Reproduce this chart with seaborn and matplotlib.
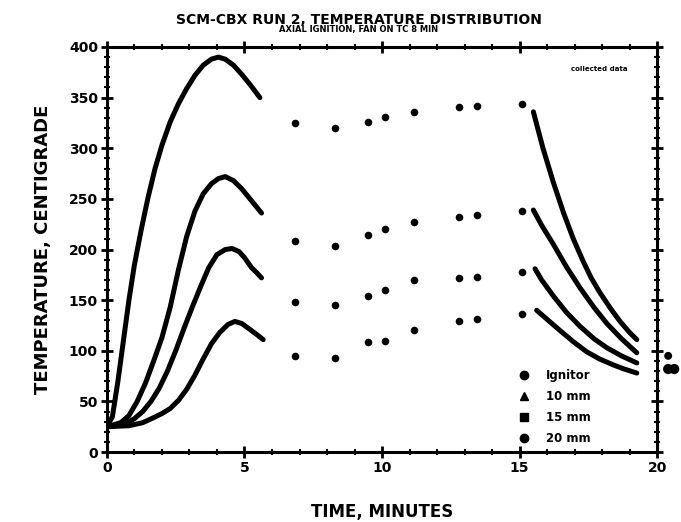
import numpy as np
import pandas as pd
import matplotlib
matplotlib.use("Agg")
import matplotlib.pyplot as plt
from matplotlib.lines import Line2D
from matplotlib.ticker import MultipleLocator
import seaborn as sns

# 读图得到的数据
# 加热段（0 ~ 5.6 分钟）
ign_rise_t = [0, 0.2, 0.4, 0.6, 0.8, 1.0, 1.25, 1.5, 1.75, 2.0, 2.3, 2.6, 2.9, 3.2,
              3.5, 3.8, 4.05, 4.3, 4.6, 4.9, 5.2, 5.56]
ign_rise_T = [25, 35, 70, 110, 150, 185, 220, 252, 280, 303, 326, 344, 359, 372,
              382, 388, 390, 388, 382, 373, 363, 350]
mm10_rise_t = [0, 0.5, 0.8, 1.1, 1.4, 1.7, 2.0, 2.3, 2.6, 2.9, 3.2, 3.5, 3.8, 4.05,
               4.3, 4.6, 4.9, 5.2, 5.62]
mm10_rise_T = [25, 29, 36, 50, 68, 90, 113, 143, 180, 213, 238, 255, 265, 270,
               272, 268, 260, 250, 236]
mm15_rise_t = [0, 0.6, 1.0, 1.3, 1.6, 1.9, 2.2, 2.5, 2.8, 3.1, 3.4, 3.7, 4.0, 4.3,
               4.55, 4.8, 5.0, 5.26, 5.45, 5.62]
mm15_rise_T = [25, 27, 33, 40, 50, 63, 80, 100, 122, 143, 163, 182, 195, 200,
               201, 198, 192, 182, 177, 172]
mm20_rise_t = [0, 0.8, 1.3, 1.7, 2.0, 2.3, 2.6, 2.9, 3.2, 3.5, 3.8, 4.1, 4.4, 4.65,
               4.9, 5.2, 5.45, 5.68]
mm20_rise_T = [25, 26, 29, 34, 38, 43, 51, 62, 76, 92, 107, 118, 126, 129,
               127, 121, 116, 111]

# 稀疏采样段
sparse_t = [6.85, 8.3, 9.5, 10.1, 11.15, 12.8, 13.45, 15.1]
ign_sparse = [325, 320, 326, 331, 336, 341, 342, 344]
mm10_sparse = [208, 203, 214, 220, 227, 232, 234, 238]
mm15_sparse = [148, 145, 154, 160, 170, 172, 173, 178]
mm20_sparse = [95, 93, 109, 110, 121, 129, 131, 136]

# 冷却段（15.5 ~ 19.3 分钟）
ign_cool_t = [15.5, 15.85, 16.23, 16.6, 16.96, 17.3, 17.6, 17.93, 18.3, 18.65, 19.0, 19.26]
ign_cool_T = [336, 300, 266, 236, 210, 189, 172, 157, 142, 129, 118, 111]
mm10_cool_t = [15.5, 15.8, 16.23, 16.7, 17.2, 17.7, 18.17, 18.7, 19.26]
mm10_cool_T = [239, 224, 205, 183, 162, 143, 127, 112, 98]
mm15_cool_t = [15.56, 15.8, 16.23, 16.7, 17.2, 17.7, 18.17, 18.7, 19.26]
mm15_cool_T = [181, 170, 154, 138, 124, 112, 103, 95, 88]
mm20_cool_t = [15.62, 16.0, 16.47, 16.95, 17.44, 17.9, 18.41, 18.8, 19.26]
mm20_cool_T = [140, 131, 120, 109, 99, 92, 86, 82, 78]

series = ["Ignitor", "10 mm", "15 mm", "20 mm"]
markers = ["o", "^", "s", "o"]

sns.set_style("ticks")
plt.rcParams["font.family"] = ["DejaVu Sans"]
plt.rcParams["font.weight"] = "bold"
for k in ["text.color", "axes.labelcolor", "xtick.color", "ytick.color", "axes.edgecolor"]:
    plt.rcParams[k] = "black"

fig = plt.figure(figsize=(6.81, 5.22), dpi=100)
ax = fig.add_axes([0.157, 0.134, 0.808, 0.776])

rise = [(ign_rise_t, ign_rise_T), (mm10_rise_t, mm10_rise_T),
        (mm15_rise_t, mm15_rise_T), (mm20_rise_t, mm20_rise_T)]
cool = [(ign_cool_t, ign_cool_T), (mm10_cool_t, mm10_cool_T),
        (mm15_cool_t, mm15_cool_T), (mm20_cool_t, mm20_cool_T)]
sparse = [ign_sparse, mm10_sparse, mm15_sparse, mm20_sparse]

for name, (rt, rT), (ct, cT) in zip(series, rise, cool):
    for tt, TT in [(rt, rT), (ct, cT)]:
        df = pd.DataFrame({"t": tt, "T": TT})
        sns.lineplot(data=df, x="t", y="T", ax=ax, color="black", lw=3.6,
                     sort=False, solid_capstyle="round", solid_joinstyle="round")

for name, vals in zip(series, sparse):
    df = pd.DataFrame({"t": sparse_t, "T": vals})
    sns.scatterplot(data=df, x="t", y="T", ax=ax, color="black", s=30,
                    edgecolor="black", linewidth=0)

# 右侧轴外的残留标记
ax.scatter([20.4, 20.4, 20.62], [95, 82, 82], s=[22, 40, 40], color="black",
           marker="o", clip_on=False, zorder=5)

ax.set_xlim(0, 20)
ax.set_ylim(0, 400)
ax.xaxis.set_major_locator(MultipleLocator(5))
ax.xaxis.set_minor_locator(MultipleLocator(1))
ax.yaxis.set_major_locator(MultipleLocator(50))
ax.yaxis.set_minor_locator(MultipleLocator(10))
ax.tick_params(which="both", top=True, right=True, direction="inout",
               color="black", labelcolor="black", labelsize=10, pad=2)
ax.tick_params(which="major", length=9, width=2)
ax.tick_params(which="minor", length=5, width=1.5)
for lab in ax.get_xticklabels() + ax.get_yticklabels():
    lab.set_fontweight("bold")
for sp in ax.spines.values():
    sp.set_visible(True)
    sp.set_linewidth(2.2)
    sp.set_color("black")

ax.set_xlabel("TIME, MINUTES", fontsize=12, fontweight="bold", labelpad=20)
ax.set_ylabel("TEMPERATURE, CENTIGRADE", fontsize=13, fontweight="bold", labelpad=12)

fig.text(0.527, 0.962, "SCM-CBX RUN 2, TEMPERATURE DISTRIBUTION",
         ha="center", va="center", fontsize=10, fontweight="bold")
fig.text(0.527, 0.943, "AXIAL IGNITION, FAN ON TC 8 MIN",
         ha="center", va="center", fontsize=6, fontweight="bold")
ax.text(0.895, 0.945, "collected data", transform=ax.transAxes,
        ha="center", va="center", fontsize=5, fontweight="bold")

handles = [Line2D([], [], ls="none", marker=m, color="black", markersize=6)
           for m in markers]
ax.legend(handles, series, loc="lower left", bbox_to_anchor=(0.725, -0.01),
          frameon=False, prop={"size": 8.5, "weight": "bold"},
          handletextpad=1.3, labelspacing=0.7, handlelength=1.2)

fig.savefig("out.png", dpi=100)
